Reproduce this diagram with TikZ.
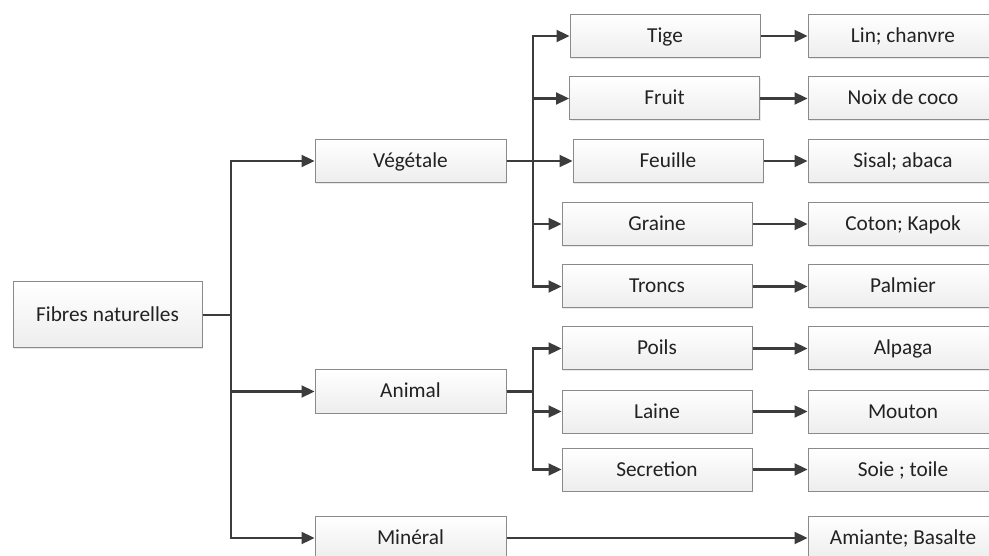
\documentclass[tikz,border=0pt]{standalone}
\usepackage{fontspec}
\setmainfont{Carlito}
\usetikzlibrary{arrows.meta,shadows}
\definecolor{linec}{HTML}{3C3C3C}
\definecolor{boxb}{HTML}{8A8A8A}
\definecolor{txt}{HTML}{222222}
\begin{document}
\begin{tikzpicture}[x=1pt,y=-1pt,
  box/.style={draw=boxb,line width=1pt,top color=white,bottom color=black!7,
    minimum width=190pt,minimum height=43pt,inner sep=0pt,
    font=\fontsize{21.3}{23}\selectfont,text=txt,
    text height=15pt,text depth=2pt,
    drop shadow={opacity=0.18,shadow xshift=1.2pt,shadow yshift=-1.2pt}},
  conn/.style={draw=linec,line width=2.3pt},
  arr/.style={conn,-{Triangle[length=13pt,width=12pt]}}]
\useasboundingbox (0,0) rectangle (989,556);
\begin{scope}
\clip (0,0) rectangle (989,556);
% root
\node[box,minimum width=189pt,minimum height=66pt] (root) at (107.5,315) {Fibres naturelles};
% level 1
\node[box,minimum width=191pt] (veg) at (410.5,161) {Végétale};
\node[box,minimum width=191pt] (ani) at (410.5,391.5) {Animal};
\node[box,minimum width=191pt] (min) at (410.5,538) {Minéral};
% level 2
\node[box] (tige) at (665,36) {Tige};
\node[box] (fruit) at (664.5,98.5) {Fruit};
\node[box] (feuille) at (668,161) {Feuille};
\node[box] (graine) at (657,224) {Graine};
\node[box] (troncs) at (657,286.5) {Troncs};
\node[box] (poils) at (657,348.5) {Poils};
\node[box] (laine) at (657,411.5) {Laine};
\node[box] (secr) at (657,469.5) {Secretion};
% level 3
\node[box] (lin) at (903,36) {Lin; chanvre};
\node[box] (noix) at (903,98.5) {Noix de coco};
\node[box] (sisal) at (903,161) {Sisal; abaca};
\node[box] (coton) at (903,224) {Coton; Kapok};
\node[box] (palm) at (903,286.5) {Palmier};
\node[box] (alpaga) at (903,348.5) {Alpaga};
\node[box] (mouton) at (903,411.5) {Mouton};
\node[box] (soie) at (903,469.5) {Soie ; toile};
\node[box] (amiante) at (903,538) {Amiante; Basalte};
% connectors
\coordinate (t) at (231,0);
\coordinate (m) at (533,0);
\draw[arr] (root.east) -- (root.east -| t) |- (veg.west);
\draw[arr] (root.east) -- (root.east -| t) |- (ani.west);
\draw[arr] (root.east) -- (root.east -| t) |- (min.west);
\foreach \c in {tige,fruit,feuille,graine,troncs}
  \draw[arr] (veg.east) -- (veg.east -| m) |- (\c.west);
\foreach \c in {poils,laine,secr}
  \draw[arr] (ani.east) -- (ani.east -| m) |- (\c.west);
\draw[arr] (min.east) -- (amiante.west);
\draw[arr] (tige.east) -- (lin.west);
\draw[arr] (fruit.east) -- (noix.west);
\draw[arr] (feuille.east) -- (sisal.west);
\draw[arr] (graine.east) -- (coton.west);
\draw[arr] (troncs.east) -- (palm.west);
\draw[arr] (poils.east) -- (alpaga.west);
\draw[arr] (laine.east) -- (mouton.west);
\draw[arr] (secr.east) -- (soie.west);
\end{scope}
\end{tikzpicture}
\end{document}
